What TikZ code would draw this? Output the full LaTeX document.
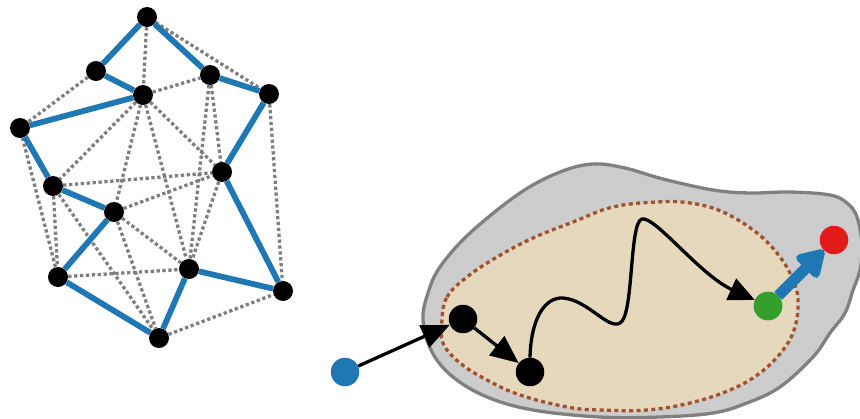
\documentclass[tikz,border=0pt]{standalone}
\usetikzlibrary{arrows.meta}
\definecolor{tblue}{HTML}{1F78B4}
\definecolor{tgreen}{HTML}{33A02C}
\definecolor{tred}{HTML}{E31A1C}
\definecolor{blobgray}{HTML}{CCCCCC}
\definecolor{blobedge}{HTML}{808080}
\definecolor{sandfill}{HTML}{E5D8BC}
\definecolor{siennaline}{HTML}{A0522D}
\definecolor{dotgray}{HTML}{7F7F7F}
\begin{document}
\begin{tikzpicture}[x=1pt,y=-1pt,
 gnode/.style={circle,fill=black,minimum size=20pt,inner sep=0pt},
 bnode/.style={circle,minimum size=28.5pt,inner sep=0pt},
 tour/.style={tblue,line width=5.8pt},
 dotl/.style={dotgray,line width=3.3pt,dash pattern=on 3.3pt off 2.6pt},
 thinarrow/.style={black,line width=3.3pt,-{Triangle[length=28pt,width=24pt]}},
]
\useasboundingbox (0,0) rectangle (860,418);
\clip (0,0) rectangle (860,418);
% blobs
\draw[blobedge,fill=blobgray,line width=3.3pt] plot[smooth cycle,tension=0.6] coordinates {(423,320) (428,293) (440,267) (470,233) (520,193) (560,172) (593,164) (625,168) (663,179) (713,190) (750,193) (790,192) (830,195) (847,203) (857,217) (862,245) (860,270) (853,290) (845,313) (830,333) (813,357) (780,387) (747,403) (713,413) (660,417) (600,417) (533,410) (487,397) (453,377) (432,352)};
\draw[siennaline,fill=sandfill,line width=3.3pt,dash pattern=on 4pt off 3.4pt] plot[smooth cycle,tension=0.65] coordinates {(442,320) (447,297) (467,277) (497,257) (533,238) (573,222) (613,207) (657,202) (690,203) (723,212) (757,233) (780,257) (793,280) (798,300) (795,327) (783,350) (760,373) (730,390) (690,403) (647,410) (600,410) (567,407) (520,395) (487,380) (460,363) (443,343)};
% graph nodes
\node[gnode] (A) at (147,17) {};
\node[gnode] (B) at (96,71) {};
\node[gnode] (C) at (143,95) {};
\node[gnode] (D) at (210,75) {};
\node[gnode] (E) at (269,94) {};
\node[gnode] (F) at (20,128) {};
\node[gnode] (G) at (53,186) {};
\node[gnode] (H) at (222,172) {};
\node[gnode] (I) at (114,212) {};
\node[gnode] (J) at (189,269) {};
\node[gnode] (K) at (58,277) {};
\node[gnode] (L) at (283,291) {};
\node[gnode] (M) at (159,338) {};
% dotted edges
\foreach \u/\v in {A/C,A/E,B/F,C/D,C/G,C/I,C/J,C/H,D/H,D/J,E/L,F/K,G/K,G/H,G/M,I/H,I/M,I/J,K/J,H/J,M/L}
  \draw[dotl] (\u) -- (\v);
% tour
\foreach \u/\v in {A/B,B/C,C/F,F/G,G/I,I/K,K/M,M/J,J/L,L/H,H/E,E/D,D/A}
  \draw[tour] (\u) -- (\v);
% right part nodes
\node[bnode,fill=tblue] (s) at (345,372) {};
\node[bnode,fill=black] (p) at (463,319) {};
\node[bnode,fill=black] (q) at (530,372) {};
\node[bnode,fill=tgreen] (g) at (768,306) {};
\node[bnode,fill=tred] (r) at (834,240) {};
\draw[thinarrow] (s) -- (p);
\draw[thinarrow] (p) -- (q);
\coordinate (w1) at (563,298);
\coordinate (w2) at (620,323);
\coordinate (w3) at (642,219);
\draw[thinarrow,-{Triangle[length=26pt,width=23pt]}] (q.north) .. controls (531,318) and (545,297) .. (w1)
  .. controls (588,300) and (608,330) .. (w2)
  .. controls (634,316) and (629,222) .. (w3)
  .. controls (655,216) and (700,275) .. (g);
\draw[tblue,line width=11pt,-{Triangle[length=30pt,width=34pt,round]}] (g) -- (r);
\node[bnode,fill=tgreen] at (g) {};
\end{tikzpicture}
\end{document}
